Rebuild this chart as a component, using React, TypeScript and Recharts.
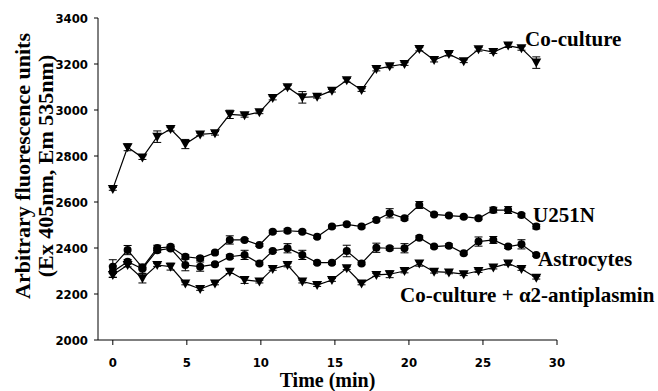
import { ErrorBar, Line, LineChart, XAxis, YAxis } from "recharts";

const times = [
  0, 1.0, 2.0, 3.0, 3.9, 4.9, 5.9, 6.9, 7.9, 8.9, 9.9, 10.8, 11.8, 12.8, 13.8,
  14.8, 15.8, 16.8, 17.8, 18.7, 19.7, 20.7, 21.7, 22.7, 23.7, 24.7, 25.7, 26.7,
  27.6, 28.6,
];

const coCulture = [
  2657, 2838, 2793, 2884, 2917, 2852, 2894, 2899, 2981, 2977, 2990, 3052, 3099,
  3055, 3058, 3084, 3129, 3087, 3178, 3190, 3200, 3265, 3217, 3243, 3212, 3264,
  3252, 3280, 3268, 3206,
];
const coCultureErr = [
  6, 15, 8, 25, 8, 20, 6, 8, 18, 8, 6, 8, 8, 25, 6, 6, 8, 6, 8, 6, 6, 8, 8, 8, 6,
  8, 6, 8, 8, 25,
];

const u251n = [
  2319, 2391, 2315, 2400, 2405, 2362, 2355, 2380, 2435, 2435, 2413, 2471, 2475,
  2471, 2449, 2493, 2503, 2493, 2522, 2551, 2529, 2587, 2546, 2541, 2536, 2529,
  2565, 2565, 2543, 2493,
];
const u251nErr = [
  30, 20, 10, 12, 8, 8, 8, 6, 18, 6, 6, 6, 8, 6, 6, 6, 6, 6, 6, 20, 8, 15, 6, 6,
  6, 6, 12, 15, 8, 10,
];

const astrocytes = [
  2297, 2340, 2310, 2390, 2398, 2326, 2319, 2329, 2362, 2370, 2333, 2387, 2399,
  2370, 2336, 2336, 2387, 2333, 2401, 2399, 2399, 2445, 2406, 2410, 2377, 2428,
  2435, 2406, 2416, 2370,
];
const astrocytesErr = [
  25, 10, 20, 10, 8, 25, 20, 6, 8, 20, 6, 6, 20, 20, 6, 6, 25, 6, 20, 8, 20, 8,
  6, 8, 6, 20, 15, 8, 20, 6,
];

const antiplasmin = [
  2283, 2326, 2268, 2326, 2319, 2246, 2222, 2246, 2297, 2261, 2254, 2309, 2326,
  2254, 2239, 2261, 2312, 2246, 2283, 2286, 2300, 2333, 2297, 2294, 2286, 2300,
  2315, 2333, 2309, 2271,
];
const antiplasminErr = [
  10, 8, 20, 6, 15, 6, 6, 6, 8, 15, 6, 6, 8, 6, 6, 6, 6, 6, 6, 15, 8, 12, 6, 6,
  6, 6, 6, 8, 6, 6,
];

const xTicks = [0, 5, 10, 15, 20, 25, 30];
const yTicks = [2000, 2200, 2400, 2600, 2800, 3000, 3200, 3400];

const data = times.map((t, i) => ({
  t,
  co: coCulture[i],
  coErr: coCultureErr[i],
  u: u251n[i],
  uErr: u251nErr[i],
  astro: astrocytes[i],
  astroErr: astrocytesErr[i],
  anti: antiplasmin[i],
  antiErr: antiplasminErr[i],
}));

const serif = "'Liberation Serif', 'Times New Roman', serif";
const sans = "'Liberation Sans Narrow', 'Arial Narrow', 'DejaVu Sans Condensed', 'Liberation Sans', sans-serif";
const tickFont = { fill: "#000", fontFamily: sans, fontWeight: "bold", fontSize: 13 };

function TriangleDot(props: any) {
  const { cx, cy, index } = props;
  if (cx == null || cy == null) return <g key={index} />;
  return (
    <path
      key={index}
      d={`M${cx - 5},${cy - 4}L${cx + 5},${cy - 4}L${cx},${cy + 5}Z`}
      fill="#000"
    />
  );
}

function CircleDot(props: any) {
  const { cx, cy, index } = props;
  if (cx == null || cy == null) return <g key={index} />;
  return <circle key={index} cx={cx} cy={cy} r={4} fill="#000" />;
}

function YLabel() {
  const cy = 166;
  return (
    <g fontFamily={serif} fontWeight="bold" fontSize={22} fill="#000">
      <text x={22} y={cy} transform={`rotate(-90, 22, ${cy})`} textAnchor="middle" dominantBaseline="central">
        Arbitrary fluorescence units
      </text>
      <text x={45} y={cy} transform={`rotate(-90, 45, ${cy})`} textAnchor="middle" dominantBaseline="central">
        (Ex 405nm, Em 535nm)
      </text>
    </g>
  );
}

function XLabel(props: any) {
  const vb = props.viewBox || {};
  const cx = (vb.x ?? 98) + (vb.width ?? 459) / 2;
  return (
    <text x={cx} y={387} textAnchor="middle" fontFamily={serif} fontWeight="bold" fontSize={20} fill="#000">
      Time (min)
    </text>
  );
}

const seriesLabels = [
  { text: "Co-culture", x: 525, y: 46 },
  { text: "U251N", x: 533, y: 222 },
  { text: "Astrocytes", x: 538, y: 266 },
  { text: "Co-culture + α2-antiplasmin", x: 400, y: 302 },
];

export default function App() {
  return (
    <div style={{ position: "absolute", left: 0, top: 0, width: 658, height: 391, background: "#fff" }}>
      <LineChart
        width={658}
        height={391}
        data={data}
        margin={{ top: 18, right: 101, bottom: 0, left: 0 }}
      >
        <XAxis
          type="number"
          dataKey="t"
          domain={[-1, 30]}
          ticks={xTicks}
          height={51}
          stroke="#000"
          tickSize={5}
          tickMargin={13}
          tick={tickFont}
          label={<XLabel />}
        />
        <YAxis
          type="number"
          domain={[2000, 3400]}
          ticks={yTicks}
          width={98}
          stroke="#000"
          tickSize={4}
          tickMargin={6}
          tick={tickFont}
          label={<YLabel />}
        />
        <Line dataKey="co" stroke="#000" strokeWidth={1.2} dot={<TriangleDot />} isAnimationActive={false}>
          <ErrorBar dataKey="coErr" direction="y" width={4} stroke="#000" strokeWidth={1} />
        </Line>
        <Line dataKey="u" stroke="#000" strokeWidth={1.2} dot={<CircleDot />} isAnimationActive={false}>
          <ErrorBar dataKey="uErr" direction="y" width={4} stroke="#000" strokeWidth={1} />
        </Line>
        <Line dataKey="astro" stroke="#000" strokeWidth={1.2} dot={<CircleDot />} isAnimationActive={false}>
          <ErrorBar dataKey="astroErr" direction="y" width={4} stroke="#000" strokeWidth={1} />
        </Line>
        <Line dataKey="anti" stroke="#000" strokeWidth={1.2} dot={<TriangleDot />} isAnimationActive={false}>
          <ErrorBar dataKey="antiErr" direction="y" width={4} stroke="#000" strokeWidth={1} />
        </Line>
      </LineChart>
      <svg
        width={658}
        height={391}
        style={{ position: "absolute", left: 0, top: 0, pointerEvents: "none" }}
      >
        {seriesLabels.map((l) => (
          <text key={l.text} x={l.x} y={l.y} fontFamily={serif} fontWeight="bold" fontSize={21} fill="#000">
            {l.text}
          </text>
        ))}
      </svg>
    </div>
  );
}
